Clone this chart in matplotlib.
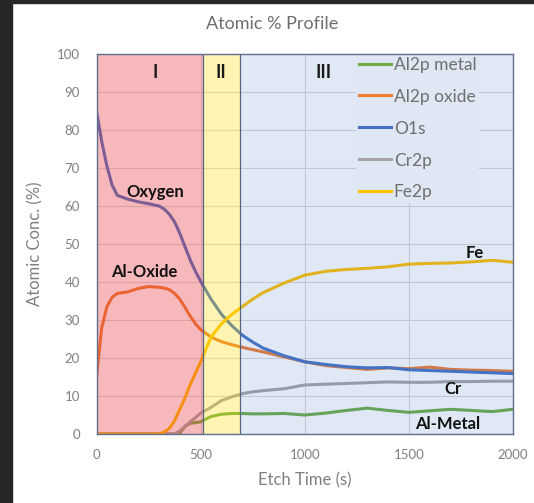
import matplotlib
matplotlib.use("Agg")
import matplotlib.pyplot as plt
from matplotlib.patches import Rectangle

plt.rcParams['font.family'] = ['Lato', 'DejaVu Sans']

# etch time (s) and atomic concentrations (%)
time_s = [0, 25, 50, 75, 100, 150, 200, 250, 300, 325, 350, 375, 400, 425, 450, 475,
          500, 550, 600, 650, 700, 750, 800, 900, 1000, 1100, 1200, 1300, 1400, 1500,
          1600, 1700, 1800, 1900, 2000]
al_metal = [0, 0, 0, 0, 0, 0, 0, 0, 0, 0, 0, 0, 0.2, 2.0, 2.8, 3.0,
            3.2, 4.6, 5.2, 5.4, 5.4, 5.3, 5.3, 5.4, 5.0, 5.5, 6.2, 6.8, 6.2, 5.7,
            6.1, 6.5, 6.2, 5.9, 6.5]
al_oxide = [15, 28, 33.5, 36, 37, 37.4, 38.3, 38.8, 38.6, 38.4, 38.0, 37.0, 35.5, 33.3, 31.0, 29.0,
            27.5, 25.5, 24.3, 23.5, 22.8, 22.2, 21.6, 20.3, 19.0, 18.0, 17.5, 17.0, 17.4, 17.2,
            17.6, 17.0, 16.8, 16.7, 16.5]
o1s = [85, 77, 70.5, 65.5, 62.8, 61.8, 61.1, 60.6, 60.0, 59.2, 57.8, 55.8, 52.8, 49.3, 45.8, 42.8,
       40.2, 35.5, 31.5, 28.5, 26.0, 24.2, 22.6, 20.6, 19.0, 18.3, 17.7, 17.4, 17.5, 16.9,
       16.7, 16.5, 16.3, 16.1, 15.9]
cr2p = [0, 0, 0, 0, 0, 0, 0, 0, 0, 0, 0, 0, 0.8, 2.0, 3.2, 4.3,
        5.5, 7.0, 8.8, 9.8, 10.6, 11.1, 11.4, 11.9, 12.9, 13.1, 13.3, 13.5, 13.7, 13.6,
        13.6, 13.8, 13.8, 13.9, 13.9]
fe2p = [0, 0, 0, 0, 0, 0, 0, 0, 0, 0.5, 1.5, 3.5, 6.5, 9.5, 13, 16,
        19, 25.5, 29, 31.5, 33.5, 35.5, 37.2, 39.7, 41.8, 42.8, 43.3, 43.6, 44.0, 44.7,
        44.9, 45.0, 45.3, 45.7, 45.2]

series = [("Al2p metal", al_metal, "#70ad47"),
          ("Al2p oxide", al_oxide, "#ed7d31"),
          ("O1s", o1s, "#4472c4"),
          ("Cr2p", cr2p, "#a5a5a5"),
          ("Fe2p", fe2p, "#ffc000")]

# region name, start, end, overlay colour, alpha, label x
regions = [("I", 0, 510, "#e8363c", 0.35, 280),
           ("II", 510, 688, "#ffdc00", 0.30, 596),
           ("III", 688, 2000, "#4472c4", 0.16, 1090)]

labels = [("Oxygen", 281, 63.7), ("Al-Oxide", 228, 42.6), ("Fe", 1815, 47.6),
          ("Cr", 1711, 11.8), ("Al-Metal", 1687, 2.6)]

fig = plt.figure(figsize=(5.34, 5.03), dpi=100)
fig.patches.append(Rectangle((0, 0), 12 / 534, 1, transform=fig.transFigure,
                             color="#262626", zorder=0))
fig.patches.append(Rectangle((0, 1 - 3 / 503), 1, 3 / 503, transform=fig.transFigure,
                             color="#262626", zorder=0))

ax = fig.add_axes([96.5 / 534, 69 / 503, 416.5 / 534, 380 / 503])

for name, vals, col in series:
    ax.plot(time_s, vals, color=col, lw=2.2, label=name, zorder=2)

for name, x0, x1, col, a, xl in regions:
    ax.axvspan(x0, x1, color=col, alpha=a, lw=0, zorder=3)
    ax.text(xl, 95, name, ha="center", va="center", fontsize=13,
            fontweight="bold", color="#1a1a1a", zorder=5)
for xb in [510, 688]:
    ax.axvline(xb, color="#55657f", lw=0.9, zorder=4)

for txt, x, y in labels:
    ax.text(x, y, txt, ha="center", va="center",
            fontsize=12, fontweight="bold", color="#111111", zorder=5)

ax.set_xlim(0, 2000)
ax.set_ylim(0, 100)
ax.set_xticks([0, 500, 1000, 1500, 2000])
ax.set_yticks(range(0, 101, 10))
ax.grid(True, color="#d9d9d9", lw=0.8, zorder=0)
ax.set_axisbelow(True)
ax.tick_params(length=0, labelsize=9.5, labelcolor="#808080")
ax.tick_params(axis="y", pad=12)
ax.tick_params(axis="x", pad=11)
for sp in ax.spines.values():
    sp.set_color("#5f7090")
    sp.set_linewidth(1.0)
    sp.set_zorder(7)

ax.set_xlabel("Etch Time (s)", fontsize=12, color="#7f7f7f", labelpad=8)
ax.set_ylabel("Atomic Conc. (%)", fontsize=12, color="#7f7f7f", labelpad=10)
fig.text(272 / 534, 1 - 24 / 503, "Atomic % Profile", ha="center", va="center",
         fontsize=13, color="#6e6e6e")

leg = ax.legend(loc="upper left", bbox_to_anchor=(0.624, 1.0), fontsize=12.5,
                frameon=True, facecolor="#dfe7f4", edgecolor="none", framealpha=1.0,
                handlelength=1.85, handletextpad=0.15, labelspacing=0.92,
                borderpad=0.15, borderaxespad=0.0)
leg.set_zorder(6)
for t in leg.get_texts():
    t.set_color("#6f6f6f")

fig.savefig("out.png", dpi=100)
